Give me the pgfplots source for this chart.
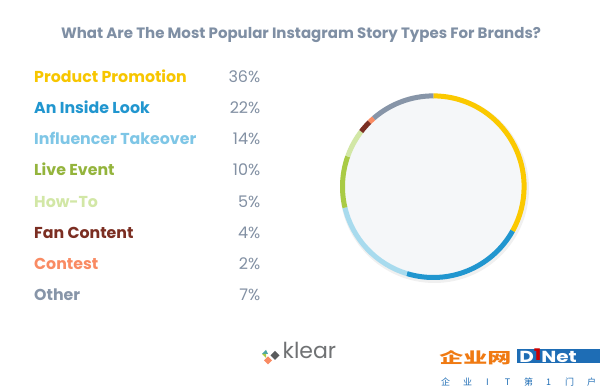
\documentclass[border=0pt]{standalone}
\usepackage{pgfplots}
\pgfplotsset{compat=1.18}
\usepackage{pgfplotstable}
\usepackage{fontspec}
\setmainfont{Poppins}
\newfontfamily\cjk{Noto Sans CJK SC}

\definecolor{cTitle}{HTML}{7F8FA4}
\definecolor{cPct}{HTML}{8290A3}
\definecolor{cYel}{HTML}{FBC900}
\definecolor{cYelT}{HTML}{F7C600}
\definecolor{cBlue}{HTML}{2196CF}
\definecolor{cLBlueT}{HTML}{7EC6E6}
\definecolor{cLBlueR}{HTML}{A8DBEE}
\definecolor{cGreenT}{HTML}{94B43C}
\definecolor{cGreenR}{HTML}{A9CB45}
\definecolor{cLGreen}{HTML}{D2E7A6}
\definecolor{cBrown}{HTML}{7B2E22}
\definecolor{cOrange}{HTML}{F98B63}
\definecolor{cGray}{HTML}{8795A8}
\definecolor{cInner}{HTML}{F5F7F9}
\definecolor{cKlear}{HTML}{707274}
\definecolor{cD1}{HTML}{1E6DB5}
\definecolor{cD1o}{HTML}{F07A12}

% ring segments, in percent of the full circle, clockwise from the top
\pgfplotstableread{
seg pct col
ProductPromotion 33.1 cYel
AnInsideLook 21.6 cBlue
InfluencerTakeover 16.6 cLBlueR
LiveEvent 9.1 cGreenR
HowTo 5.0 cLGreen
FanContent 2.2 cBrown
Contest 1.0 cOrange
Other 11.4 cGray
}\ringdata

\begin{document}
\begin{tikzpicture}[x=1pt,y=1pt]
\path[use as bounding box, fill=white] (0,0) rectangle (600,387);

% title
\node[anchor=base, inner sep=0, text=cTitle, font=\bfseries\fontsize{15}{17}\selectfont] at (301,348.7)
  {What Are The Most Popular Instagram Story Types For Brands?};

% legend list
\newcommand{\row}[4]{%
  \node[anchor=base west, inner sep=0, text=#3, font=\bfseries\fontsize{15.8}{18}\selectfont] at (34,#1) {#2};
  \node[anchor=base east, inner sep=0, text=cPct, font=\fontsize{16}{18}\selectfont] at (260.5,#1) {#4};}
\row{304.3}{Product Promotion}{cYelT}{36\%}
\row{273.2}{An Inside Look}{cBlue}{22\%}
\row{242.1}{Influencer Takeover}{cLBlueT}{14\%}
\row{211.0}{Live Event}{cGreenT}{10\%}
\row{179.9}{How-To}{cLGreen}{5\%}
\row{148.8}{Fan Content}{cBrown}{4\%}
\row{117.7}{Contest}{cOrange}{2\%}
\row{86.6}{Other}{cGray}{7\%}

% donut ring
\begin{axis}[at={(433.3pt,200.3pt)}, anchor=origin, x=1pt, y=1pt,
  xmin=-100, xmax=100, ymin=-100, ymax=100, hide axis, clip=false]
\fill[cInner] (axis cs:0,0) circle[radius=88.5pt];
\draw[black, opacity=0.06, line width=4pt] (axis cs:1.2,-1.8) circle[radius=92.5pt];
\xdef\cum{0}
\pgfplotsforeachungrouped \i in {0,...,7}{%
  \pgfplotstablegetelem{\i}{pct}\of\ringdata \let\p\pgfplotsretval
  \pgfplotstablegetelem{\i}{col}\of\ringdata \let\segcol\pgfplotsretval
  \pgfmathsetmacro\sa{90-3.6*\cum}%
  \pgfmathsetmacro\ea{90-3.6*(\cum+\p)}%
  \edef\tmp{\noexpand\draw[\segcol, line width=5pt] (axis cs:0,0) ++(\sa:90.8pt) arc[start angle=\sa, end angle=\ea, radius=90.8pt];}%
  \tmp
  \pgfmathsetmacro\cum{\cum+\p}%
}
\end{axis}

% klear logo
\fill[cKlear!80!black] (275,36) -- (279.5,31.5) -- (275,27) -- (270.5,31.5) -- cycle;
\fill[cOrange] (268,30.5) -- (272,26.5) -- (268,22.5) -- (264,26.5) -- cycle;
\fill[cBlue!70!cGreenR] (262,33) -- (266,37) -- (268,33) -- cycle;
\fill[cGreenR] (262,33) -- (266,29) -- (266,33) -- cycle;
\node[anchor=base west, inner sep=0, text=cKlear, font=\fontsize{22}{24}\selectfont] at (282.5,28.5) {klear};

% watermark
\node[anchor=base west, inner sep=0, text=cD1o, xscale=1.6, font=\cjk\bfseries\fontsize{15}{16}\selectfont] at (439,23.5) {企业网};
\fill[cD1] (517,23.5) rectangle (600,37.5);
\node[anchor=base west, inner sep=0, text=white, xscale=1.25, font=\bfseries\fontsize{16}{16}\selectfont] at (519,24.5) {D\raisebox{2pt}{\textcolor{red!80!black}{1}}Net};
\node[anchor=base west, inner sep=0, text=cD1, font=\cjk\fontsize{9}{9}\selectfont] at (441,1) {企\hspace{13pt}业\hspace{14pt}I\hspace{16pt}T\hspace{14pt}第\hspace{13pt}1\hspace{14pt}门\hspace{13pt}户};
\end{tikzpicture}
\end{document}
